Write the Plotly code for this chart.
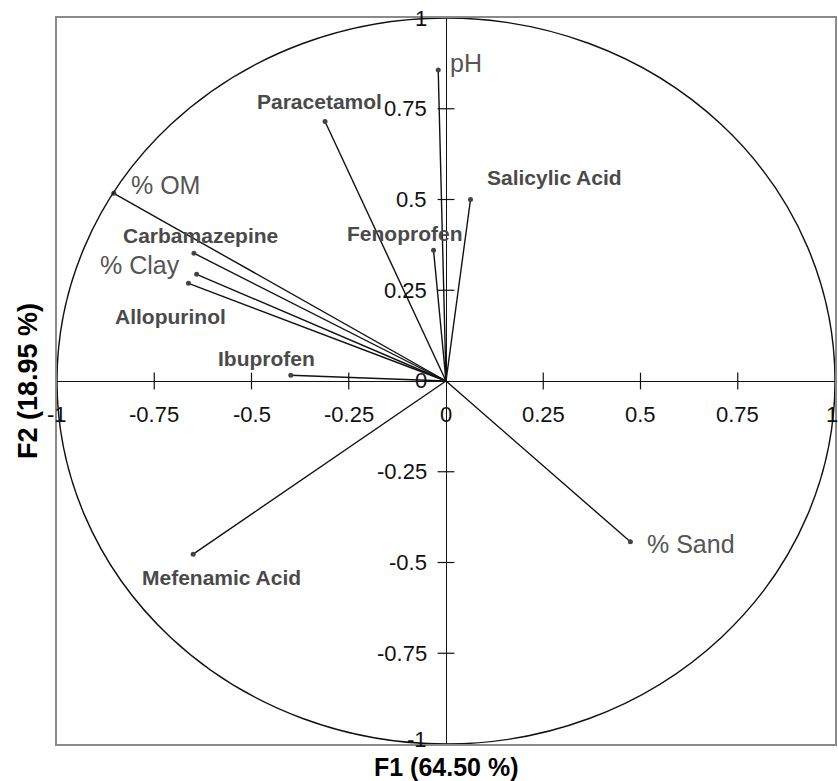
import plotly.graph_objects as go

# ---- data ----
variables = ["pH", "Paracetamol", "Salicylic Acid", "Fenoprofen", "% OM",
             "Carbamazepine", "% Clay", "Allopurinol", "Ibuprofen",
             "Mefenamic Acid", "% Sand"]
f1 = [-0.020, -0.311, 0.063, -0.032, -0.854, -0.648, -0.641, -0.662, -0.399, -0.650, 0.474]
f2 = [0.857, 0.715, 0.500, 0.360, 0.517, 0.352, 0.294, 0.269, 0.016, -0.477, -0.443]
is_compound = [False, True, True, True, False, True, False, True, True, True, False]

x_ticks = [-1, -0.75, -0.5, -0.25, 0, 0.25, 0.5, 0.75, 1]
x_tick_labels = ["-1", "-0.75", "-0.5", "-0.25", "0", "0.25", "0.5", "0.75", "1"]
y_ticks = [1, 0.75, 0.5, 0.25, 0, -0.25, -0.5, -0.75, -1]
y_tick_labels = ["1", "0.75", "0.5", "0.25", "0", "-0.25", "-0.5", "-0.75", "-1"]
x_title = "F1 (64.50 %)"
y_title = "F2 (18.95 %)"

# ---- label placement (pixels, style only) ----
label_style = {
    "pH": dict(xanchor="left", xshift=10, yshift=7),
    "Paracetamol": dict(xanchor="center", xshift=-6, yshift=20),
    "Salicylic Acid": dict(xanchor="left", xshift=14, yshift=22),
    "Fenoprofen": dict(xanchor="center", xshift=-29, yshift=17),
    "% OM": dict(xanchor="left", xshift=15, yshift=8),
    "Carbamazepine": dict(xanchor="center", xshift=7, yshift=18),
    "% Clay": dict(xanchor="right", xshift=-15, yshift=9),
    "Allopurinol": dict(xanchor="center", xshift=-18, yshift=-33),
    "Ibuprofen": dict(xanchor="center", xshift=-24, yshift=17),
    "Mefenamic Acid": dict(xanchor="center", xshift=28, yshift=-23),
    "% Sand": dict(xanchor="left", xshift=15, yshift=-2),
}

FONT = "Liberation Sans, Arial, Helvetica, sans-serif"

fig = go.Figure()

# vectors
lx, ly = [], []
for x, y in zip(f1, f2):
    lx += [0, x, None]
    ly += [0, y, None]
fig.add_trace(go.Scatter(x=lx, y=ly, mode="lines",
                         line=dict(color="#111111", width=1.4),
                         hoverinfo="skip", showlegend=False))
fig.add_trace(go.Scatter(x=f1, y=f2, mode="markers", text=variables,
                         marker=dict(color="#444444", size=5),
                         showlegend=False))

# tick marks on the axes crossing at origin
xt = [t for t in x_ticks if abs(t) not in (0, 1)]
yt = [t for t in y_ticks if abs(t) not in (0, 1)]
fig.add_trace(go.Scatter(x=xt, y=[0] * len(xt), mode="markers",
                         marker=dict(symbol="line-ns", size=12,
                                     line=dict(color="#111111", width=1.2)),
                         hoverinfo="skip", showlegend=False))
fig.add_trace(go.Scatter(x=[0] * len(yt), y=yt, mode="markers",
                         marker=dict(symbol="line-ew", size=12,
                                     line=dict(color="#111111", width=1.2)),
                         hoverinfo="skip", showlegend=False))

annotations = []
for t, s in zip(x_ticks, x_tick_labels):
    annotations.append(dict(x=t, y=0, xref="x", yref="y", text=s, showarrow=False,
                            xanchor="center", yanchor="middle", yshift=-33,
                            xshift=-3 if t == 1 else 0,
                            font=dict(family=FONT, size=22, color="#111111")))
for t, s in zip(y_ticks, y_tick_labels):
    yshift = 1 if t == 0 else (5 if t == -1 else 0)
    annotations.append(dict(x=0, y=t, xref="x", yref="y", text=s, showarrow=False,
                            xanchor="right", yanchor="middle", xshift=-17,
                            yshift=yshift,
                            font=dict(family=FONT, size=22, color="#111111")))

for name, x, y, comp in zip(variables, f1, f2, is_compound):
    st = label_style[name]
    if comp:
        txt = "<b>" + name + "</b>"
        fnt = dict(family=FONT, size=21, color="#4a4a4a")
    else:
        txt = name
        fnt = dict(family=FONT, size=25, color="#555555")
    annotations.append(dict(x=x, y=y, xref="x", yref="y", text=txt, showarrow=False,
                            yanchor="middle", font=fnt, **st))

annotations.append(dict(x=0.5, y=0, xref="paper", yref="paper", text="<b>" + x_title + "</b>",
                        showarrow=False, xanchor="center", yanchor="top", yshift=-7,
                        font=dict(family=FONT, size=25, color="#000000")))
annotations.append(dict(x=0, y=0.5, xref="paper", yref="paper", text="<b>" + y_title + "</b>",
                        showarrow=False, xanchor="right", yanchor="middle", xshift=-12,
                        textangle=-90,
                        font=dict(family=FONT, size=27, color="#000000")))

fig.update_layout(
    width=838, height=781,
    margin=dict(l=57, r=1, t=18, b=37),
    paper_bgcolor="white", plot_bgcolor="white",
    showlegend=False,
    annotations=annotations,
    shapes=[dict(type="circle", xref="x", yref="y", x0=-1, y0=-1, x1=1, y1=1,
                 line=dict(color="#111111", width=1.4), layer="above")],
    xaxis=dict(range=[-1, 1], showgrid=False, showticklabels=False, ticks="",
               zeroline=True, zerolinecolor="#111111", zerolinewidth=1.3,
               showline=True, mirror=True, linecolor="#8a8a8a", linewidth=1.5,
               fixedrange=True),
    yaxis=dict(range=[-1, 1], showgrid=False, showticklabels=False, ticks="",
               zeroline=True, zerolinecolor="#111111", zerolinewidth=1.3,
               showline=True, mirror=True, linecolor="#8a8a8a", linewidth=1.5,
               fixedrange=True),
)

fig.write_html("out.html")
